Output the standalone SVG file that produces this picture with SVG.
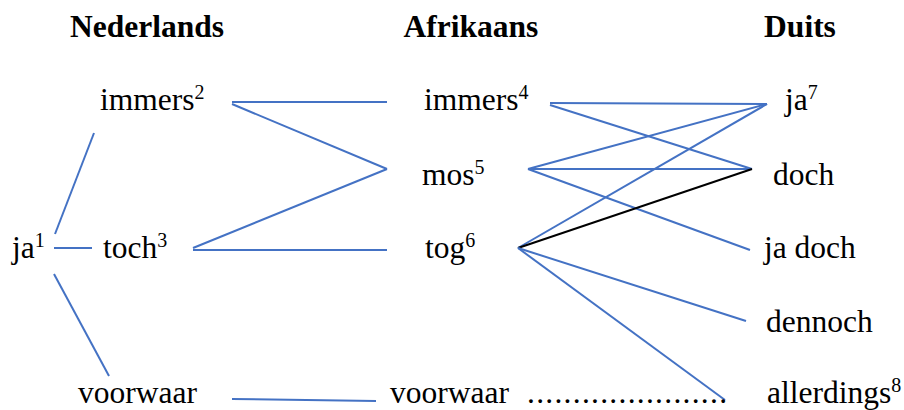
<svg xmlns="http://www.w3.org/2000/svg" width="904" height="410" viewBox="0 0 904 410">
<style>
.c line{stroke:#4472C4;stroke-width:2;fill:none}
.c line.k{stroke:#000}
.t{font-family:'Liberation Serif','Times New Roman',serif;font-size:31.5px;fill:#000}
.h{font-weight:bold}
.sup{font-size:20px}
</style>
<rect width="904" height="410" fill="#fff"/>
<g class="c" id="connectors">
<line x1="55" y1="234" x2="94" y2="133"/>
<line x1="54" y1="248" x2="92" y2="248"/>
<line x1="54" y1="274" x2="109" y2="376"/>
<line x1="232" y1="102" x2="387" y2="102"/>
<line x1="232" y1="104" x2="387" y2="169"/>
<line x1="387" y1="169" x2="193" y2="248"/>
<line x1="193" y1="250" x2="387" y2="250"/>
<line x1="232" y1="399" x2="376" y2="401"/>
<line x1="550" y1="103" x2="767" y2="104"/>
<line x1="550" y1="105" x2="752" y2="169"/>
<line x1="528" y1="169" x2="767" y2="104"/>
<line x1="528" y1="169" x2="752" y2="169"/>
<line x1="528" y1="169" x2="750" y2="250"/>
<line x1="518" y1="248" x2="767" y2="104"/>
<line class="k" x1="518" y1="248" x2="752" y2="169"/>
<line x1="518" y1="248" x2="746" y2="321"/>
<line x1="518" y1="248" x2="725" y2="400"/>
</g>
<g class="t">
<g id="headers" class="h">
<text x="147" y="37" text-anchor="middle">Nederlands</text>
<text x="471" y="37" text-anchor="middle">Afrikaans</text>
<text x="800" y="37" text-anchor="middle">Duits</text>
</g>
<g id="nl-immers"><text x="100" y="110">immers<tspan class="sup" dy="-11">2</tspan></text></g>
<g id="nl-ja"><text x="12" y="258">ja<tspan class="sup" dy="-11">1</tspan></text></g>
<g id="nl-toch"><text x="103" y="258">toch<tspan class="sup" dy="-11">3</tspan></text></g>
<g id="nl-voorwaar"><text x="78" y="403">voorwaar</text></g>
<g id="af-immers"><text x="424" y="110">immers<tspan class="sup" dy="-11">4</tspan></text></g>
<g id="af-mos"><text x="422" y="185">mos<tspan class="sup" dy="-11">5</tspan></text></g>
<g id="af-tog"><text x="425" y="258">tog<tspan class="sup" dy="-11">6</tspan></text></g>
<g id="af-voorwaar"><text x="390" y="403">voorwaar</text></g>
<g id="dots"><text x="527" y="403" textLength="200" lengthAdjust="spacing">......................</text></g>
<g id="de-ja"><text x="785" y="110">ja<tspan class="sup" dy="-11">7</tspan></text></g>
<g id="de-doch"><text x="773" y="185">doch</text></g>
<g id="de-jadoch"><text x="764" y="258">ja doch</text></g>
<g id="de-dennoch"><text x="766" y="332">dennoch</text></g>
<g id="de-allerdings"><text x="767" y="403">allerdings<tspan class="sup" dy="-11">8</tspan></text></g>
</g>
</svg>
